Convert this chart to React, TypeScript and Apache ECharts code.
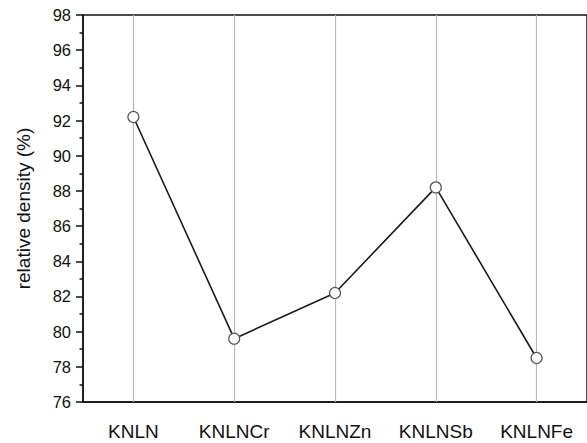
import React, { useEffect, useRef } from "react";
import * as echarts from "echarts";

const categories = ["KNLN", "KNLNCr", "KNLNZn", "KNLNSb", "KNLNFe"];
const density = [92.2, 79.6, 82.2, 88.2, 78.5];
const yMin = 76;
const yMax = 98;
const yStep = 2;
const yTitle = "relative density (%)";

const FONT = "'Liberation Sans', Arial, sans-serif";

export default function App() {
  const ref = useRef<HTMLDivElement>(null);
  useEffect(() => {
    if (!ref.current) return;
    const chart = echarts.init(ref.current, undefined, { renderer: "svg" });
    chart.setOption({
      animation: false,
      backgroundColor: "#ffffff",
      grid: {
        left: 83,
        top: 15,
        right: -1,
        bottom: 41,
        show: true,
        borderColor: "#111",
        borderWidth: 1.5,
        backgroundColor: "transparent",
      },
      xAxis: {
        type: "category",
        data: categories,
        boundaryGap: true,
        axisLine: { lineStyle: { color: "#111", width: 1.5 } },
        axisTick: { alignWithLabel: true, length: 6, lineStyle: { color: "#111", width: 1.5 } },
        axisLabel: { color: "#111", fontSize: 19, fontFamily: FONT, margin: 20 },
        splitLine: { show: false },
      },
      yAxis: {
        type: "value",
        min: yMin,
        max: yMax,
        interval: yStep,
        name: yTitle,
        nameLocation: "middle",
        nameGap: 50,
        nameTextStyle: { color: "#111", fontSize: 19, fontFamily: FONT },
        axisLine: { show: true, lineStyle: { color: "#111", width: 1.5 } },
        axisTick: { show: true, inside: false, length: 7, lineStyle: { color: "#111", width: 1.5 } },
        minorTick: { show: true, splitNumber: 2, length: 3.5, lineStyle: { color: "#111", width: 1.5 } },
        axisLabel: { color: "#111", fontSize: 16.5, fontFamily: FONT, margin: 12 },
        splitLine: { show: false },
      },
      series: [
        {
          type: "line",
          data: density,
          symbol: "circle",
          symbolSize: 11,
          lineStyle: { color: "#1a1a1a", width: 1.6 },
          itemStyle: { color: "#ffffff", borderColor: "#555", borderWidth: 1.2 },
          z: 3,
          markLine: {
            silent: true,
            symbol: "none",
            label: { show: false },
            lineStyle: { color: "#b8b8b8", type: "solid", width: 1.2 },
            data: categories.map((c) => ({ xAxis: c })),
            z: 1,
          },
        },
      ],
    });
    return () => chart.dispose();
  }, []);
  return <div ref={ref} style={{ width: 587, height: 443, position: "absolute", left: 0, top: 0 }} />;
}
